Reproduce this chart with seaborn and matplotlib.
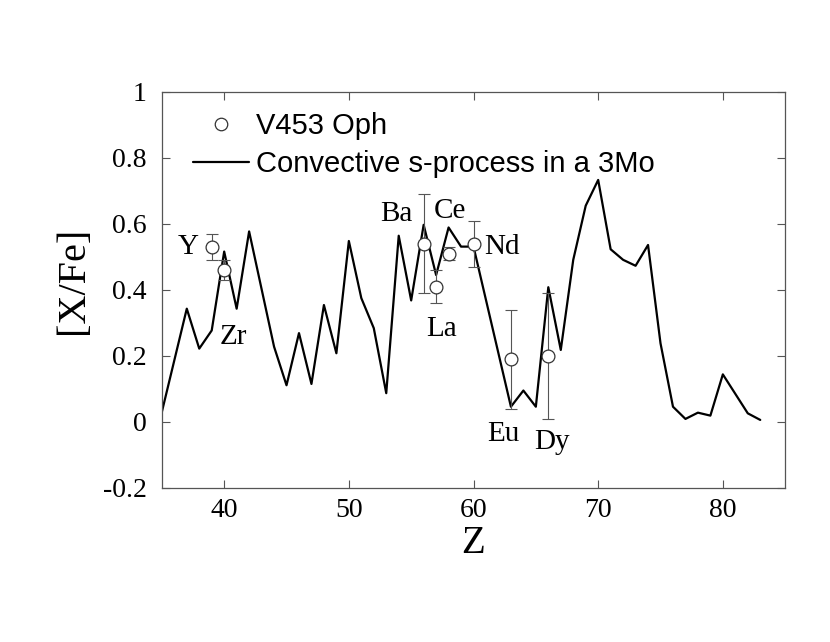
import numpy as np
import pandas as pd
import seaborn as sb
import matplotlib.pyplot as plt
from matplotlib.lines import Line2D

# model curve: convective s-process in a 3 Msun star
model_z = [35, 37, 38, 39, 40, 41, 42, 44, 45, 46, 47, 48, 49, 50, 51, 52, 53,
           54, 55, 56, 57, 58, 59, 60, 63, 64, 65, 66, 67, 68, 69, 70, 71, 72,
           73, 74, 75, 76, 77, 78, 79, 80, 81, 82, 83]
model_xfe = [0.03, 0.343, 0.222, 0.277, 0.516, 0.343, 0.577, 0.228, 0.111,
             0.269, 0.115, 0.354, 0.208, 0.548, 0.375, 0.284, 0.087, 0.564,
             0.368, 0.597, 0.445, 0.589, 0.531, 0.531, 0.046, 0.095, 0.046,
             0.408, 0.218, 0.491, 0.655, 0.733, 0.523, 0.491, 0.473, 0.536,
             0.238, 0.046, 0.009, 0.028, 0.019, 0.144, 0.085, 0.026, 0.006]

# observed abundances of V453 Oph
elements = ['Y', 'Zr', 'Ba', 'La', 'Ce', 'Nd', 'Eu', 'Dy']
obs_z = [39, 40, 56, 57, 58, 60, 63, 66]
obs_xfe = [0.53, 0.46, 0.54, 0.41, 0.51, 0.54, 0.19, 0.20]
obs_err = [0.04, 0.03, 0.15, 0.05, 0.02, 0.07, 0.15, 0.19]

# label positions for the element names
label_x = [37.1, 40.7, 53.8, 57.4, 58.1, 62.3, 62.4, 66.3]
label_y = [0.53, 0.257, 0.631, 0.28, 0.64, 0.531, -0.037, -0.06]

model = pd.DataFrame({'Z': model_z, 'XFe': model_xfe})
obs = pd.DataFrame({'el': elements, 'Z': obs_z, 'XFe': obs_xfe, 'err': obs_err})

sb.set_style('ticks')
serif = ['Liberation Serif', 'DejaVu Serif']
sans = ['Liberation Sans', 'DejaVu Sans']
plt.rcParams['font.family'] = serif
plt.rcParams['text.color'] = 'black'
plt.rcParams['axes.labelcolor'] = 'black'
plt.rcParams['xtick.labelcolor'] = 'black'
plt.rcParams['ytick.labelcolor'] = 'black'

fig = plt.figure(figsize=(8.3, 6.42), dpi=100)
ax = fig.add_axes([0.195, 0.24, 0.751, 0.617])

sb.lineplot(data=model, x='Z', y='XFe', color='black', linewidth=1.6, ax=ax,
            legend=False)
ax.errorbar(obs['Z'], obs['XFe'], yerr=obs['err'], fmt='none', ecolor='#555555',
            elinewidth=0.8, capsize=4, capthick=0.8, zorder=3)
sb.scatterplot(data=obs, x='Z', y='XFe', marker='o', s=85, facecolor='white',
               edgecolor='#333333', linewidth=0.9, ax=ax, zorder=4, legend=False)

for name, lx, ly in zip(elements, label_x, label_y):
    ax.text(lx, ly, name, fontsize=21, ha='center', va='center', family=serif)

ax.set_xlim(35, 85)
ax.set_ylim(-0.2, 1.0)
ax.set_xticks([40, 50, 60, 70, 80])
ax.set_yticks([-0.2, 0, 0.2, 0.4, 0.6, 0.8, 1.0])
ax.set_yticklabels(['-0.2', '0', '0.2', '0.4', '0.6', '0.8', '1'])
ax.tick_params(axis='both', direction='in', length=6, width=0.8,
               color='#555555', labelsize=20, top=True, right=True)
ax.tick_params(axis='x', pad=7)
ax.tick_params(axis='y', pad=11)
for sp in ax.spines.values():
    sp.set_color('#555555')
    sp.set_linewidth(0.9)

ax.set_xlabel('Z', fontsize=28, labelpad=2)
ax.set_ylabel('[X/Fe]', fontsize=29)
ax.yaxis.set_label_coords(-0.112, 0.525)

handles = [Line2D([], [], marker='o', linestyle='none', markersize=9,
                  markerfacecolor='white', markeredgecolor='#333333',
                  markeredgewidth=0.9),
           Line2D([], [], color='black', linewidth=1.6)]
leg = ax.legend(handles, ['V453 Oph', 'Convective s-process in a 3Mo'],
                loc='upper left', bbox_to_anchor=(0.032, 0.978), frameon=False,
                prop={'family': sans, 'size': 21}, handlelength=1.9,
                handletextpad=0.25, labelspacing=0.35, borderaxespad=0)

plt.savefig('out.png', dpi=100)
